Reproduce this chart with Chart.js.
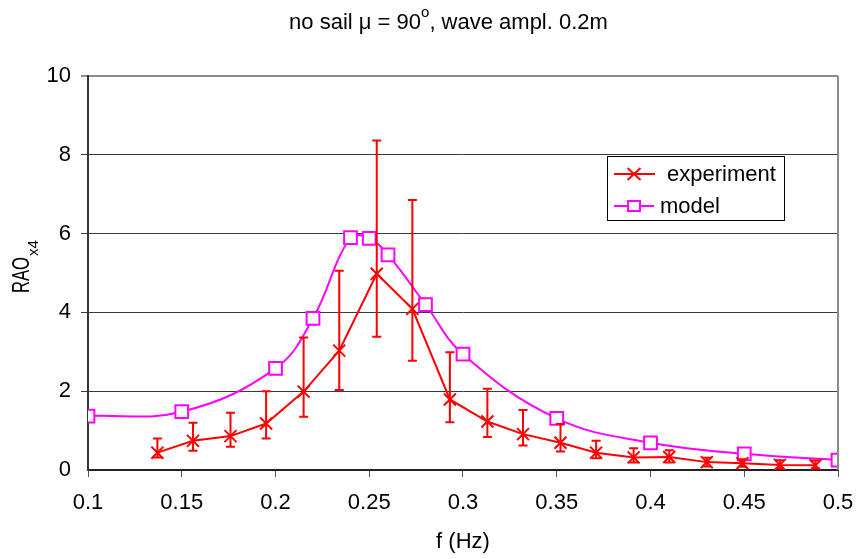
<!DOCTYPE html>
<html>
<head>
<meta charset="utf-8">
<script src="https://cdn.jsdelivr.net/npm/chart.js@4/dist/chart.umd.min.js"></script>
<style>
  html, body { margin: 0; padding: 0; background: #fff; }
  #wrap { width: 856px; height: 559px; position: relative; }
</style>
</head>
<body>
<div id="wrap"><canvas id="c" width="856" height="559"></canvas></div>
<script>
// ---- data ----
const expF   = [0.137, 0.156, 0.176, 0.195, 0.215, 0.234, 0.254, 0.273, 0.293, 0.313, 0.332, 0.352, 0.371, 0.391, 0.410, 0.430, 0.449, 0.469, 0.488];
const expVal = [0.44, 0.74, 0.86, 1.18, 1.99, 3.03, 4.98, 4.09, 1.79, 1.23, 0.91, 0.69, 0.44, 0.32, 0.33, 0.20, 0.17, 0.13, 0.12];
const expHi  = [0.80, 1.20, 1.45, 2.00, 3.36, 5.06, 8.36, 6.85, 2.99, 2.06, 1.52, 1.17, 0.74, 0.55, 0.50, 0.31, 0.27, 0.25, 0.24];
const expLo  = [0.32, 0.49, 0.59, 0.80, 1.35, 2.03, 3.38, 2.77, 1.21, 0.84, 0.62, 0.47, 0.30, 0.19, 0.19, 0.09, 0.08, 0.04, 0.04];

const modelF   = [0.10, 0.15, 0.20, 0.22, 0.24, 0.25, 0.26, 0.28, 0.30, 0.35, 0.40, 0.45, 0.50];
const modelVal = [1.37, 1.48, 2.58, 3.85, 5.90, 5.88, 5.46, 4.20, 2.94, 1.31, 0.69, 0.41, 0.25];

const seriesNames = ['experiment', 'model'];
const xTicks = [0.1, 0.15, 0.2, 0.25, 0.3, 0.35, 0.4, 0.45, 0.5];
const yTicks = [0, 2, 4, 6, 8, 10];

const FONT = '"Liberation Sans", Arial, sans-serif';
const RED = '#ff0000';
const MAG = '#ff00ff';

const expPoints = expF.map((f, i) => ({ x: f, y: expVal[i] }));
const modelPoints = modelF.map((f, i) => ({ x: f, y: modelVal[i] }));

const customPlugin = {
  id: 'customDraw',
  afterDatasetsDraw(chart) {
    const ctx = chart.ctx, xs = chart.scales.x, ys = chart.scales.y;
    ctx.save();
    ctx.strokeStyle = RED;
    ctx.lineWidth = 2;
    for (let i = 0; i < expF.length; i++) {
      const px = xs.getPixelForValue(expF[i]);
      const t = ys.getPixelForValue(expHi[i]);
      const b = ys.getPixelForValue(expLo[i]);
      ctx.beginPath();
      ctx.moveTo(px, t); ctx.lineTo(px, b);
      ctx.moveTo(px - 4.5, t); ctx.lineTo(px + 4.5, t);
      ctx.moveTo(px - 4.5, b); ctx.lineTo(px + 4.5, b);
      ctx.stroke();
    }
    ctx.restore();
  },
  afterDraw(chart) {
    const ctx = chart.ctx, a = chart.chartArea;
    ctx.save();
    // right border of plot area
    ctx.strokeStyle = '#8c8c8c';
    ctx.lineWidth = 2;
    ctx.beginPath();
    ctx.moveTo(a.right, a.top); ctx.lineTo(a.right, a.bottom);
    ctx.stroke();

    ctx.fillStyle = '#000';
    ctx.textBaseline = 'alphabetic';
    // main title with superscript o
    const p1 = 'no sail \u03bc = 90', p2 = 'o', p3 = ', wave ampl. 0.2m';
    ctx.font = '22px ' + FONT;
    const w1 = ctx.measureText(p1).width, w3 = ctx.measureText(p3).width;
    ctx.font = '15px ' + FONT;
    const w2 = ctx.measureText(p2).width;
    let tx = 448.5 - (w1 + w2 + w3) / 2;
    ctx.textAlign = 'left';
    ctx.font = '22px ' + FONT;
    ctx.fillText(p1, tx, 29);
    ctx.font = '15px ' + FONT;
    ctx.fillText(p2, tx + w1, 17);
    ctx.font = '22px ' + FONT;
    ctx.fillText(p3, tx + w1 + w2, 29);

    // x axis title
    ctx.textAlign = 'center';
    ctx.font = '22px ' + FONT;
    ctx.fillText('f (Hz)', 463, 548);

    // y axis title, rotated, with subscript
    ctx.save();
    ctx.translate(29, 293);
    ctx.rotate(-Math.PI / 2);
    ctx.textAlign = 'left';
    ctx.font = '23px ' + FONT;
    ctx.fillText('RAO', 0, 0, 36);
    ctx.font = '15px ' + FONT;
    ctx.fillText('x4', 37, 9, 18);
    ctx.restore();

    // legend
    const lx = 607, ly = 156, lw = 177, lh = 64;
    ctx.fillStyle = '#fff';
    ctx.fillRect(lx, ly, lw, lh);
    ctx.strokeStyle = '#000';
    ctx.lineWidth = 1;
    ctx.strokeRect(lx + 0.5, ly + 0.5, lw, lh);

    // experiment entry
    const y1 = 174, y2 = 206;
    ctx.strokeStyle = RED; ctx.lineWidth = 2;
    ctx.beginPath(); ctx.moveTo(614, y1); ctx.lineTo(655, y1); ctx.stroke();
    ctx.beginPath();
    ctx.moveTo(627.5, y1 - 6); ctx.lineTo(640.5, y1 + 6);
    ctx.moveTo(640.5, y1 - 6); ctx.lineTo(627.5, y1 + 6);
    ctx.stroke();
    // model entry
    ctx.strokeStyle = MAG;
    ctx.beginPath(); ctx.moveTo(614, y2); ctx.lineTo(654, y2); ctx.stroke();
    ctx.fillStyle = '#fff';
    ctx.fillRect(628, y2 - 5, 12, 10);
    ctx.strokeRect(628, y2 - 5, 12, 10);

    ctx.fillStyle = '#000';
    ctx.textAlign = 'left';
    ctx.font = '22px ' + FONT;
    ctx.fillText(seriesNames[0], 667, 181);
    ctx.fillText(seriesNames[1], 660, 213);
    ctx.restore();
  }
};

new Chart(document.getElementById('c'), {
  type: 'line',
  data: {
    datasets: [
      {
        label: seriesNames[0],
        data: expPoints,
        borderColor: RED,
        backgroundColor: RED,
        borderWidth: 2,
        tension: 0,
        pointStyle: 'crossRot',
        pointRadius: 8.5,
        pointBorderWidth: 2,
        pointBorderColor: RED,
        pointHoverRadius: 8.5,
        order: 0
      },
      {
        label: seriesNames[1],
        data: modelPoints,
        borderColor: MAG,
        backgroundColor: '#fff',
        borderWidth: 2,
        tension: 0.4,
        pointStyle: 'rect',
        pointRadius: 9,
        pointBorderWidth: 2,
        pointBorderColor: MAG,
        pointBackgroundColor: '#fff',
        pointHoverRadius: 9,
        order: 1
      }
    ]
  },
  options: {
    responsive: false,
    animation: false,
    events: [],
    layout: { padding: { top: 76, right: 18, left: 0, bottom: 0 } },
    plugins: {
      legend: { display: false },
      title: { display: false },
      tooltip: { enabled: false }
    },
    scales: {
      x: {
        type: 'linear',
        min: 0.1,
        max: 0.5,
        afterFit: s => { s.height = 89; s.paddingLeft = 0; s.paddingRight = 0; },
        afterBuildTicks: s => { s.ticks = xTicks.map(v => ({ value: v })); },
        ticks: {
          callback: v => String(Math.round(v * 100) / 100),
          color: '#000',
          font: { family: FONT, size: 22 },
          padding: 13,
          maxRotation: 0,
          autoSkip: false
        },
        grid: {
          drawOnChartArea: false,
          drawTicks: true,
          tickLength: 7,
          color: '#555',
          lineWidth: 1
        },
        border: { display: true, color: '#222', width: 2 }
      },
      y: {
        type: 'linear',
        min: 0,
        max: 10,
        afterFit: s => { s.width = 88; s.paddingTop = 0; s.paddingBottom = 0; },
        afterBuildTicks: s => { s.ticks = yTicks.map(v => ({ value: v })); },
        ticks: {
          color: '#000',
          font: { family: FONT, size: 22 },
          padding: 10
        },
        grid: {
          drawOnChartArea: true,
          drawTicks: true,
          tickLength: 7,
          color: c => (c.tick && c.tick.value === 10) ? '#8c8c8c' : (c.tick && c.tick.value === 0 ? 'rgba(0,0,0,0)' : '#3a3a3a'),
          lineWidth: c => (c.tick && c.tick.value === 10) ? 2 : 1
        },
        border: { display: true, color: '#333', width: 2 }
      }
    }
  },
  plugins: [customPlugin]
});
</script>
</body>
</html>
